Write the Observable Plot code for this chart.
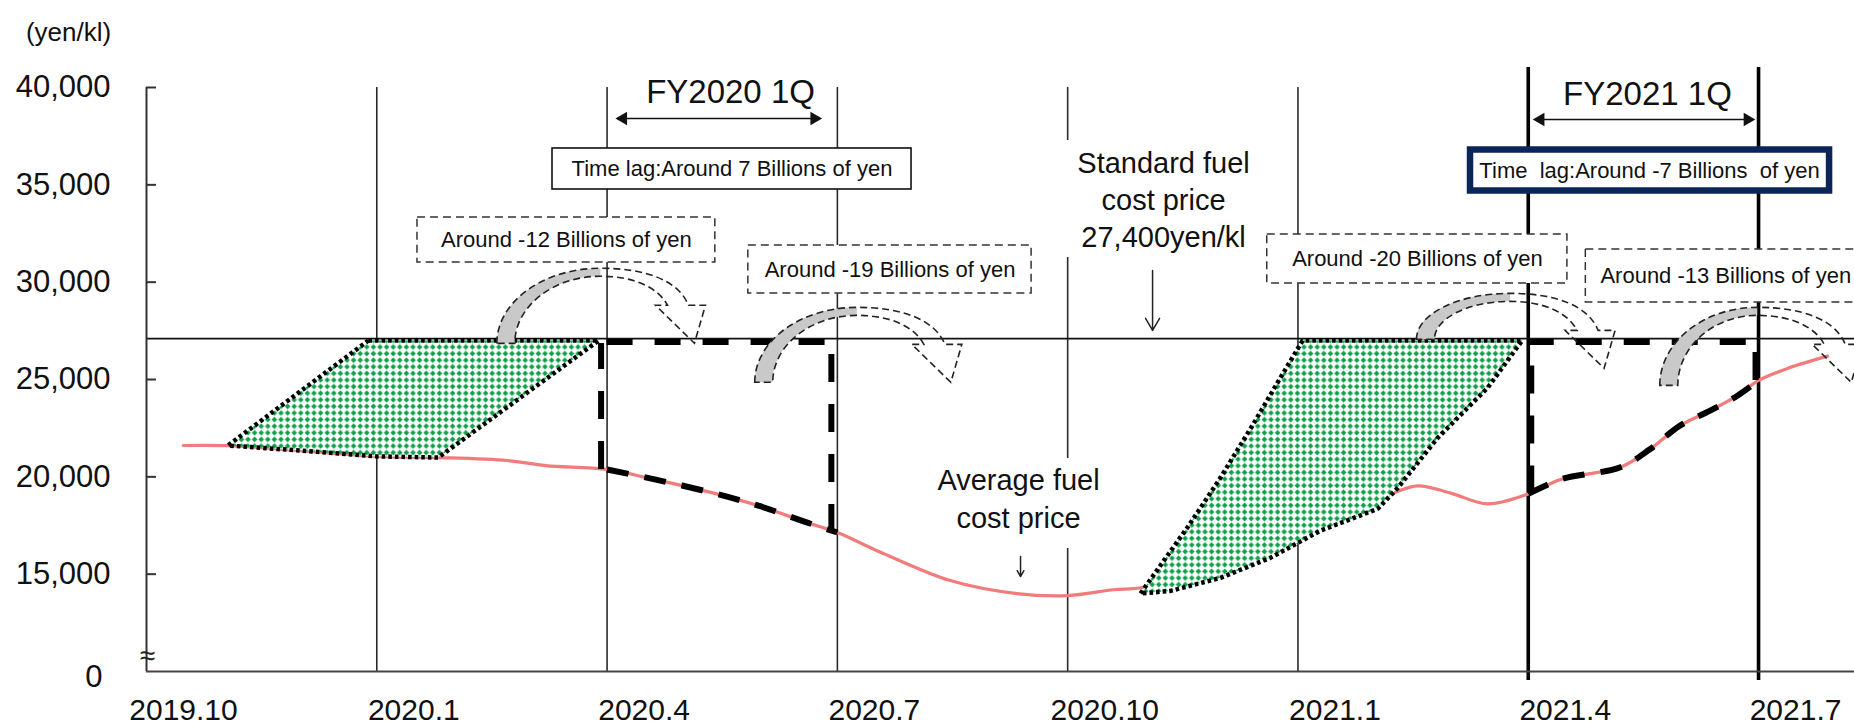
<!DOCTYPE html>
<html><head><meta charset="utf-8">
<script src="https://cdn.jsdelivr.net/npm/d3@7"></script>
<script src="https://cdn.jsdelivr.net/npm/@observablehq/plot@0.6"></script>
<style>
html,body{margin:0;padding:0;background:#fff;}
#chart{width:1854px;height:728px;overflow:hidden;position:relative;}
</style></head><body>
<svg width="0" height="0" style="position:absolute"><defs>
<pattern id="dots" width="6.6" height="6.6" patternUnits="userSpaceOnUse">
<rect width="6.6" height="6.6" fill="#fff"/><path d="M3.3,0.5 L6.1,3.3 L3.3,6.1 L0.5,3.3 Z" fill="#10a04a"/>
</pattern></defs></svg>
<div id="chart"></div>
<script>
// ---------------- data (months counted from 2019.10) ----------------
const quarterMonths = [0, 3, 6, 9, 12, 15, 18, 21];
const quarterLabels = ["2019.10", "2020.1", "2020.4", "2020.7", "2020.10", "2021.1", "2021.4", "2021.7"];
const yTicks = [10000, 15000, 20000, 25000, 30000, 35000, 40000];
const yTickLabels = ["0", "15,000", "20,000", "25,000", "30,000", "35,000", "40,000"];
const standardPrice = 27100; // standard fuel cost price line, as drawn (labelled 27,400yen/kl)

// average fuel cost price (red line)
const avgMonth = [0.48, 1.06, 2.0, 3.0, 3.8, 4.7, 5.2, 6.0, 6.56, 7.35, 7.96, 8.6, 9.0, 9.6, 10.47, 11.34, 12.0, 12.6, 12.95, 13.5, 14.0, 14.64, 15.29, 15.8, 16.2, 16.56, 17.0, 17.47, 18.0, 18.43, 19.2, 19.58, 19.97, 20.37, 20.73, 21.0, 21.4, 21.9];
const avgPrice = [21610, 21600, 21350, 21050, 20990, 20840, 20580, 20380, 19920, 19200, 18530, 17660, 17140, 16060, 14670, 14000, 13900, 14200, 14300, 14900, 15400, 16500, 17900, 18700, 19120, 19540, 19150, 18610, 19120, 19880, 20490, 21400, 22610, 23400, 24180, 24950, 25600, 26200];

// hatched (green) areas
const area1Month = [2.89, 5.89, 3.80, 3.0, 2.0, 1.06];
const area1Price = [27000, 27000, 20990, 21050, 21350, 21610];
const area2Month = [12.95, 13.56, 13.99, 14.42, 14.77, 15.06, 17.92, 17.47, 16.82, 16.3, 16.04, 15.29, 14.64, 13.99, 13.34];
const area2Price = [14010, 17400, 19950, 22720, 25080, 27000, 27000, 24570, 22000, 19430, 18360, 17230, 15840, 14810, 14140];

// time-lag quarters
const lagStart = [6, 18];
const lagEnd = [9, 21];
const lagTitles = ["FY2020 1Q", "FY2021 1Q"];
const lagTexts = ["Time lag:Around 7 Billions of yen", "Time  lag:Around -7 Billions  of yen"];
const effectTexts = ["Around -12 Billions of yen", "Around -19 Billions of yen", "Around -20 Billions of yen", "Around -13 Billions of yen"];

// curved arrows: foot (left) and crest
const arrowFootMonth = [4.57, 7.93, 16.55, 19.72];
const arrowFootPrice = [26830, 24830, 27040, 24670];
const arrowTopMonth = [5.92, 9.26, 17.77, 20.99];
const arrowTopPrice = [30690, 28680, 29400, 28680];

// ---------------- derived tables ----------------
const avg = avgMonth.map((m, i) => ({m, p: avgPrice[i]}));
const priceAt = m => avg.find(d => Math.abs(d.m - m) < 1e-6).p;
const closed = (ms, ps) => { const a = ms.map((m, i) => ({m, p: ps[i]})); a.push(a[0]); return a; };
const area1 = closed(area1Month, area1Price);
const area2 = closed(area2Month, area2Price);
const seg = (a, b) => avg.filter(d => d.m >= a - 1e-6 && d.m <= b + 1e-6);

// annotation layout (data units)
const effectBoxes = [
  {x1: 3.53, x2: 7.41, y1: 31010, y2: 33322, tx: 5.47, ty: 32166, anchor: "middle"},
  {x1: 7.84, x2: 11.53, y1: 29418, y2: 31884, tx: 9.686, ty: 30651, anchor: "middle"},
  {x1: 14.60, x2: 18.51, y1: 29932, y2: 32449, tx: 16.557, ty: 31190, anchor: "middle"},
  {x1: 18.75, x2: 22.6, y1: 28955, y2: 31678, tx: 18.94, ty: 30317, anchor: "start"}
].map((b, i) => ({...b, text: effectTexts[i]}));

const xMax = 22.25;
const fontFamily = '"Liberation Sans", Arial, Helvetica, sans-serif';
const dashStyle = {stroke: "#000", strokeWidth: 6, strokeLinecap: "butt"};

const chart = Plot.plot({
  width: 1854, height: 728,
  marginLeft: 146, marginRight: 0, marginTop: 87, marginBottom: 57,
  x: {domain: [0, xMax], axis: null},
  y: {domain: [10000, 40000], axis: null},
  style: {fontFamily, background: "#fff", color: "#000", overflow: "hidden"},
  marks: [
    // quarter grid
    Plot.ruleX(quarterMonths.slice(1, 6), {y1: 10000, y2: 40000, stroke: "#2a2a2a", strokeWidth: 1.6}),
    Plot.ruleX(quarterMonths.slice(6), {y1: 9540, y2: 41030, stroke: "#000", strokeWidth: 3.6}),
    // standard price line
    Plot.ruleY([standardPrice], {x1: 0, x2: xMax, stroke: "#111", strokeWidth: 1.6}),
    // axes
    Plot.ruleY([10000], {x1: 0, x2: xMax, stroke: "#444", strokeWidth: 2}),
    Plot.ruleX([0], {y1: 10000, y2: 40000, stroke: "#333", strokeWidth: 2}),
    Plot.ruleY(yTicks.slice(1), {x1: 0, x2: 0.13, stroke: "#333", strokeWidth: 2}),
    Plot.text(yTicks.slice(1), {x: 0, y: d => d, text: (d, i) => yTickLabels[i + 1], textAnchor: "end", dx: -36, fontSize: 31, fill: "#111"}),
    Plot.text(yTicks.slice(0, 1), {x: 0, y: d => d, text: (d, i) => yTickLabels[i], textAnchor: "end", dx: -44, dy: 6, fontSize: 31, fill: "#111"}),
    Plot.text(quarterMonths, {x: d => d, y: 10000, text: (d, i) => quarterLabels[i], dx: 37, dy: 39, fontSize: 30, fill: "#111"}),
    Plot.text(["(yen/kl)"], {frameAnchor: "top-left", textAnchor: "middle", lineAnchor: "middle", dx: -78, dy: -55, fontSize: 26, fill: "#111"}),
    Plot.text(["≈"], {frameAnchor: "bottom-left", textAnchor: "middle", lineAnchor: "middle", dx: 1, dy: -15, fontSize: 28, fill: "#222"}),
    // average fuel cost price
    Plot.line(avg, {x: "m", y: "p", stroke: "#f27b7b", strokeWidth: 3.2, curve: "catmull-rom"}),
    // green hatched areas
    Plot.line(area1, {x: "m", y: "p", fill: "url(#dots)", stroke: "#000", strokeWidth: 4.5, strokeDasharray: "3.6 3", strokeLinecap: "butt", strokeLinejoin: "miter", curve: "linear"}),
    Plot.line(area2, {x: "m", y: "p", fill: "url(#dots)", stroke: "#000", strokeWidth: 4.5, strokeDasharray: "3.6 3", strokeLinecap: "butt", strokeLinejoin: "miter", curve: "linear"}),
    // time-lag dashed frames
    Plot.line(seg(lagStart[0], lagEnd[0]), {x: "m", y: "p", ...dashStyle, strokeDasharray: "22 16", curve: "catmull-rom"}),
    Plot.line(seg(lagStart[1], lagEnd[1]), {x: "m", y: "p", ...dashStyle, strokeDasharray: "22 16", curve: "catmull-rom"}),
    Plot.ruleY([0, 1], {x1: i => lagStart[i], x2: i => lagEnd[i], y: () => standardPrice, dy: 3.5, ...dashStyle, strokeDasharray: "26 22"}),
    Plot.ruleX([lagStart[0], lagEnd[0]], {x: d => d, y1: d => priceAt(d), y2: 26850, dx: -6, ...dashStyle, strokeDasharray: "28 22"}),
    Plot.ruleX([lagStart[1]], {x: d => d, y1: d => priceAt(d), y2: 26850, dx: 3, ...dashStyle, strokeDasharray: "28 22"}),
    Plot.ruleX([lagEnd[1]], {x: d => d, y1: d => priceAt(d), y2: 26850, dx: -3, ...dashStyle, strokeDasharray: "28 22"}),
    // quarter headers with double arrows
    Plot.text([0, 1], {x: i => [7.608, 19.553][i], y: i => [39743, 39640][i], text: i => lagTitles[i], fontSize: 33, fill: "#111"}),
    Plot.ruleY([0, 1], {x1: i => [6.21, 18.16][i], x2: i => [8.70, 20.857][i], y: i => [38407, 38356][i], stroke: "#111", strokeWidth: 1.6}),
    Plot.dot([0, 1, 2, 3], {x: i => [6.21, 8.70, 18.16, 20.857][i], y: i => [38407, 38407, 38356, 38356][i], symbol: "triangle", r: 5, fill: "#111", stroke: "none", rotate: i => i % 2 ? 90 : -90}),
    // time lag boxes
    Plot.rect([0], {x1: 5.289, x2: 9.966, y1: 34760, y2: 36867, fill: "#fff", stroke: "#111", strokeWidth: 1.6}),
    Plot.text([0], {x: 7.627, y: 35839, text: () => lagTexts[0], fontSize: 22, fill: "#111"}),
    Plot.rect([0], {x1: 17.248, x2: 21.925, y1: 34683, y2: 36789, fill: "#fff", stroke: "#0b2559", strokeWidth: 6.5}),
    Plot.text([0], {x: 19.58, y: 35736, text: () => lagTexts[1], fontSize: 22, fill: "#111"}),
    // effect (dashed) boxes
    Plot.rect(effectBoxes, {x1: "x1", x2: "x2", y1: "y1", y2: "y2", fill: "#fff", stroke: "#333", strokeWidth: 1.5, strokeDasharray: "8 5"}),
    Plot.text(effectBoxes.filter(b => b.anchor === "middle"), {x: "tx", y: "ty", text: "text", fontSize: 22, fill: "#111"}),
    Plot.text(effectBoxes.filter(b => b.anchor === "start"), {x: "tx", y: "ty", text: "text", textAnchor: "start", fontSize: 22, fill: "#111"}),
    // standard / average price labels
    Plot.rect([0], {x1: 11.881, x2: 14.538, y1: 31267, y2: 37277, fill: "#fff"}),
    Plot.text(["Standard fuel", "cost price", "27,400yen/kl"], {x: 13.249, y: (d, i) => [36096, 34195, 32295][i], text: d => d, fontSize: 29, fill: "#111"}),
    Plot.arrow([0], {x1: 13.106, x2: 13.106, y1: 30600, y2: 27518, stroke: "#222", strokeWidth: 1.5, headLength: 14}),
    Plot.rect([0], {x1: 10.239, x2: 12.43, y1: 16319, y2: 20942, fill: "#fff"}),
    Plot.text(["Average fuel", "cost price"], {x: 11.36, y: (d, i) => [19812, 17860][i], text: d => d, fontSize: 29, fill: "#111"}),
    Plot.arrow([0], {x1: 11.386, x2: 11.386, y1: 15907, y2: 14880, stroke: "#222", strokeWidth: 1.5, headLength: 15})
  ]
});

// curved effect arrows, positioned with the chart's own scales
const sx = chart.scale("x"), sy = chart.scale("y");
const g = d3.select(chart).append("g").attr("class", "curved-arrows");
const k = 0.5523, tb = 18, tt = 8;
arrowFootMonth.forEach((fm, i) => {
  const x0 = sx.apply(fm), by = sy.apply(arrowFootPrice[i]);
  const cx = sx.apply(arrowTopMonth[i]), ty = sy.apply(arrowTopPrice[i]);
  const rx = cx - x0, ry = by - ty;
  const outerLeft = `M${x0},${by} C${x0},${by - ry * k} ${cx - rx * k},${ty} ${cx},${ty}`;
  const innerLeft = ` C${cx - (rx - tb) * k},${ty + tt} ${x0 + tb},${by - (ry - tt) * k} ${x0 + tb},${by}`;
  const outerRight = ` C${cx + 45},${ty} ${cx + 78},${ty + 12} ${cx + 88},${ty + 37}`;
  const head = ` L${cx + 105},${ty + 37} L${cx + 94},${ty + 75} L${cx + 55},${ty + 37} L${cx + 67},${ty + 37}`;
  const innerRight = ` C${cx + 58},${ty + 20} ${cx + 35},${ty + tt} ${cx},${ty + tt}`;
  g.append("path").attr("d", outerLeft + ` L${cx},${ty + tt}` + innerLeft + " Z").attr("fill", "#c9c9c9").attr("stroke", "none");
  g.append("path").attr("d", outerLeft + outerRight + head + innerRight + innerLeft + " Z")
    .attr("fill", "none").attr("stroke", "#222").attr("stroke-width", 1.6).attr("stroke-dasharray", "7 4");
});

document.getElementById("chart").appendChild(chart);
</script>
</body></html>
